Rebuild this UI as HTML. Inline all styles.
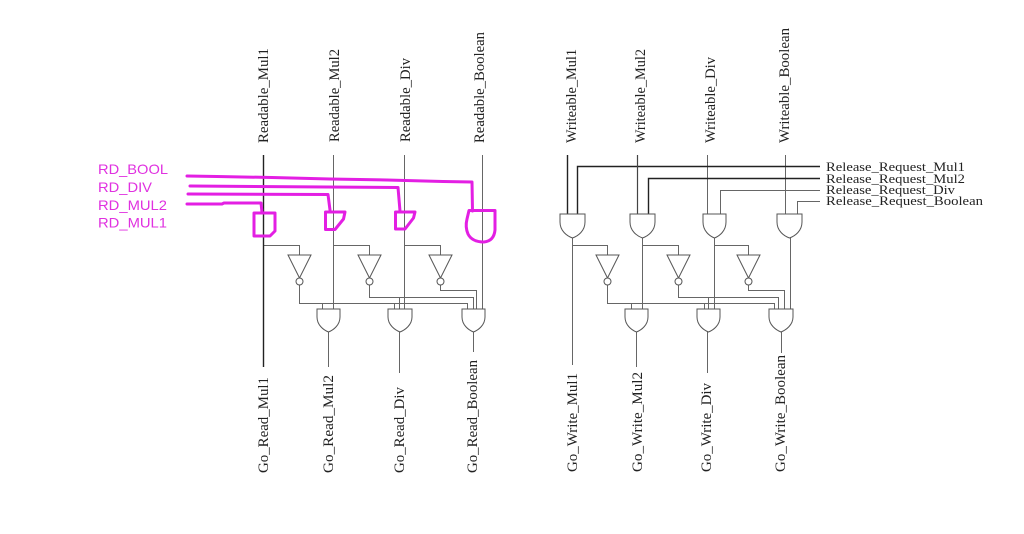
<!DOCTYPE html>
<html><head><meta charset="utf-8"><style>html,body{margin:0;padding:0;background:#fff;width:1024px;height:534px;overflow:hidden}</style></head>
<body>
<svg width="1024" height="534" viewBox="0 0 1024 534" xmlns="http://www.w3.org/2000/svg">
<rect width="1024" height="534" fill="#fff"/>

<!-- vertical labels -->
<g font-family="Liberation Serif, serif" font-size="15" fill="#222" lengthAdjust="spacingAndGlyphs">
<text transform="translate(268,143) rotate(-90)" textLength="95" lengthAdjust="spacingAndGlyphs">Readable_Mul1</text>
<text transform="translate(339,142) rotate(-90)" textLength="93" lengthAdjust="spacingAndGlyphs">Readable_Mul2</text>
<text transform="translate(410,142) rotate(-90)" textLength="84" lengthAdjust="spacingAndGlyphs">Readable_Div</text>
<text transform="translate(484,143) rotate(-90)" textLength="111" lengthAdjust="spacingAndGlyphs">Readable_Boolean</text>
<text transform="translate(576,143) rotate(-90)" textLength="94" lengthAdjust="spacingAndGlyphs">Writeable_Mul1</text>
<text transform="translate(645,143) rotate(-90)" textLength="94" lengthAdjust="spacingAndGlyphs">Writeable_Mul2</text>
<text transform="translate(715,143) rotate(-90)" textLength="86" lengthAdjust="spacingAndGlyphs">Writeable_Div</text>
<text transform="translate(789,143) rotate(-90)" textLength="115" lengthAdjust="spacingAndGlyphs">Writeable_Boolean</text>

<text transform="translate(268,473) rotate(-90)" textLength="96" lengthAdjust="spacingAndGlyphs">Go_Read_Mul1</text>
<text transform="translate(333,473) rotate(-90)" textLength="98" lengthAdjust="spacingAndGlyphs">Go_Read_Mul2</text>
<text transform="translate(404,473) rotate(-90)" textLength="86" lengthAdjust="spacingAndGlyphs">Go_Read_Div</text>
<text transform="translate(477,473) rotate(-90)" textLength="113" lengthAdjust="spacingAndGlyphs">Go_Read_Boolean</text>
<text transform="translate(577,472) rotate(-90)" textLength="99" lengthAdjust="spacingAndGlyphs">Go_Write_Mul1</text>
<text transform="translate(642,472) rotate(-90)" textLength="100" lengthAdjust="spacingAndGlyphs">Go_Write_Mul2</text>
<text transform="translate(711,472) rotate(-90)" textLength="89" lengthAdjust="spacingAndGlyphs">Go_Write_Div</text>
<text transform="translate(785,472) rotate(-90)" textLength="117" lengthAdjust="spacingAndGlyphs">Go_Write_Boolean</text>
</g>

<!-- release labels -->
<g font-family="Liberation Serif, serif" font-size="13" fill="#222">
<text x="826" y="171" textLength="139" lengthAdjust="spacingAndGlyphs">Release_Request_Mul1</text>
<text x="826" y="183" textLength="139" lengthAdjust="spacingAndGlyphs">Release_Request_Mul2</text>
<text x="826" y="194" textLength="129" lengthAdjust="spacingAndGlyphs">Release_Request_Div</text>
<text x="826" y="205" textLength="157" lengthAdjust="spacingAndGlyphs">Release_Request_Boolean</text>
</g>

<!-- gray wires -->
<g fill="none" stroke="#666" stroke-width="1">
<path d="M333.5,155 V309 M404.5,155 V309 M482.5,155 V309"/>
<path d="M263,245.5 H299.5 V255 M333.5,245.5 H369.5 V255 M404.5,245.5 H440.5 V255"/>
<path d="M299.5,285 V303.5 H467.5 V309 M322.5,303.5 V309 M394.5,303.5 V309"/>
<path d="M369.5,285 V297.5 H473.5 V309 M399.5,297.5 V309"/>
<path d="M440.5,285 V290.5 H476.5 V309"/>
<path d="M328.5,332 V367 M399.5,332 V373 M473.5,332 V352"/>

<path d="M707.5,155 V214 M785.5,155 V214"/>
<path d="M820,190.5 H720.5 V214 M820,201.5 H797.5 V214"/>
<path d="M572.5,238 V365 M572.5,245.5 H607.5 V255"/>
<path d="M642.5,238 V309 M642.5,245.5 H678.5 V255"/>
<path d="M714.5,238 V309 M714.5,245.5 H748.5 V255"/>
<path d="M790.5,238 V309"/>
<path d="M607.5,285 V303.5 H774.5 V309 M631.5,303.5 V309 M704.5,303.5 V309"/>
<path d="M678.5,285 V297.5 H778.5 V309 M708.5,297.5 V309"/>
<path d="M748.5,285 V290.5 H784.5 V309"/>
<path d="M636.5,332 V367 M707.5,332 V373 M781.5,332 V353"/>
</g>
<!-- darker wires -->
<g fill="none" stroke="#222" stroke-width="1.4">
<path d="M263.5,155 V367"/>
<path d="M567.5,155 V214"/>
<path d="M820,166.5 H577.5 V214"/>
<path d="M820,178.5 H648.5 V214"/>
</g>
<path d="M637.5,155 V214" fill="none" stroke="#444" stroke-width="1.2"/>

<!-- gates -->
<g fill="#fff" stroke="#555" stroke-width="1">
<!-- left inverters -->
<path d="M288,255 H311 L299.5,278 Z"/><circle cx="299.5" cy="281.5" r="3.5"/>
<path d="M358,255 H381 L369.5,278 Z"/><circle cx="369.5" cy="281.5" r="3.5"/>
<path d="M429,255 H452 L440.5,278 Z"/><circle cx="440.5" cy="281.5" r="3.5"/>
<!-- right inverters -->
<path d="M596,255 H619 L607.5,278 Z"/><circle cx="607.5" cy="281.5" r="3.5"/>
<path d="M667,255 H690 L678.5,278 Z"/><circle cx="678.5" cy="281.5" r="3.5"/>
<path d="M737,255 H760 L748.5,278 Z"/><circle cx="748.5" cy="281.5" r="3.5"/>
<!-- bottom gates left -->
<path d="M317,309 H340 V317 C340,325 333.5,330 328.5,332 C323.5,330 317,325 317,317 Z"/>
<path d="M388,309 H412 V317 C412,325 405,330 400,332 C395,330 388,325 388,317 Z"/>
<path d="M462,309 H485 V317 C485,325 478.5,330 473.5,332 C468.5,330 462,325 462,317 Z"/>
<!-- bottom gates right -->
<path d="M625,309 H648 V317 C648,325 641.5,330 636.5,332 C631.5,330 625,325 625,317 Z"/>
<path d="M697,309 H720 V317 C720,325 713.5,330 708.5,332 C703.5,330 697,325 697,317 Z"/>
<path d="M769,309 H793 V317 C793,325 786,330 781,332 C776,330 769,325 769,317 Z"/>
<!-- top right gates -->
<path d="M560,214 H585 V222 C585,231 578,236 572.5,238 C567,236 560,231 560,222 Z"/>
<path d="M630,214 H655 V222 C655,231 648,236 642.5,238 C637,236 630,231 630,222 Z"/>
<path d="M703,214 H726 V222 C726,231 719.5,236 714.5,238 C709.5,236 703,231 703,222 Z"/>
<path d="M777,214 H802 V222 C802,231 795,236 789.5,238 C784,236 777,231 777,222 Z"/>
</g>

<!-- magenta overlay -->
<g fill="none" stroke="#e31fe3" stroke-width="3" stroke-linejoin="round" stroke-linecap="round">
<path d="M187,176 L217,176.5 L272,177.5 L330,179 L387,180 L443,181.5 L472,182 L472.5,211"/>
<path d="M190,186 L398,187.5 L400,211"/>
<path d="M188,194 L328,194.5 L330,210"/>
<path d="M187,204 L222,204 L224,203 L261,203 L262,212.5"/>
<path d="M254,213 H275 V231 L270,236 H254 Z"/>
<path d="M325.5,212 H345 L343.5,219 L335,229.5 H325.5 Z"/>
<path d="M395.5,212 H415 L413.5,218 L405,229 H395.5 Z"/>
<path d="M469,210.5 H495 V230 Q494,241 484,242 Q472,242 468,234 Q465,227 467,219 Z"/>
</g>
<g font-family="Liberation Sans, sans-serif" font-size="14" fill="#e031e0">
<text x="98" y="174" textLength="70" lengthAdjust="spacingAndGlyphs">RD_BOOL</text>
<text x="98" y="192" textLength="54" lengthAdjust="spacingAndGlyphs">RD_DIV</text>
<text x="98" y="210" textLength="69" lengthAdjust="spacingAndGlyphs">RD_MUL2</text>
<text x="98" y="227.5" textLength="69" lengthAdjust="spacingAndGlyphs">RD_MUL1</text>
</g>
</svg>
</body></html>
